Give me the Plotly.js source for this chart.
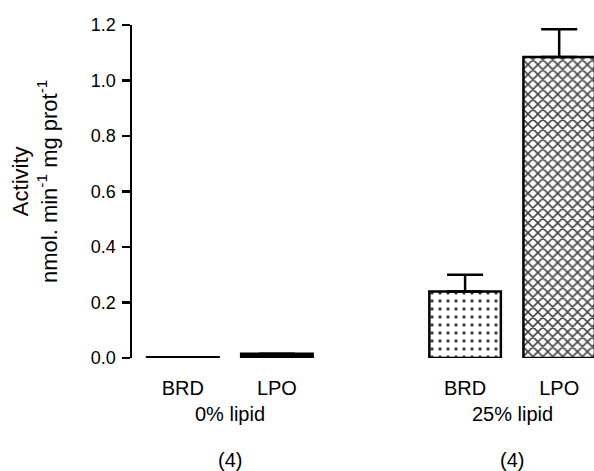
<!DOCTYPE html>
<html>
<head>
<meta charset="utf-8">
<script src="https://cdn.plot.ly/plotly-3.0.1.min.js"></script>
<style>html,body{margin:0;padding:0;background:#fff;}#chart{width:594px;height:471px;}</style>
</head>
<body>
<div id="chart"></div>
<script>
// Data
const positions = [0, 1, 3, 4];
const barLabels = ['BRD', 'LPO', 'BRD', 'LPO'];
const activity = [0.003, 0.015, 0.24, 1.085];
const errorUp = [0, 0, 0.06, 0.1];
const groupLabels = ['0% lipid', '25% lipid'];
const groupCenters = [0.5, 3.5];
const groupN = ['(4)', '(4)'];
const yTitle = 'Activity<br>nmol. min<sup>-1</sup> mg prot<sup>-1</sup>';

const FONT = 'Liberation Sans, Arial, Helvetica, sans-serif';
const FS = 20;

const trace = {
  type: 'bar',
  x: positions,
  y: activity,
  width: 0.76,
  marker: {
    color: ['black', 'black', 'white', 'white'],
    line: {color: 'black', width: 2.5},
    pattern: {
      shape: ['', '', '.', 'x'],
      fgcolor: 'black',
      fgopacity: 1,
      bgcolor: 'white',
      size: [8, 8, 8, 7],
      solidity: [0.15, 0.15, 0.15, 0.4],
      fillmode: 'overlay'
    }
  },
  error_y: {
    type: 'data',
    symmetric: false,
    array: errorUp,
    arrayminus: [0, 0, 0, 0],
    color: 'black',
    thickness: 2.5,
    width: 18
  },
  hoverinfo: 'skip'
};

const annotations = [];
groupLabels.forEach((g, i) => {
  annotations.push({x: groupCenters[i], xref: 'x', y: -0.168, yref: 'paper', text: g,
    showarrow: false, yanchor: 'middle', font: {family: FONT, size: FS, color: 'black'}});
  annotations.push({x: groupCenters[i], xref: 'x', y: -0.306, yref: 'paper', text: groupN[i],
    showarrow: false, yanchor: 'middle', font: {family: FONT, size: FS, color: 'black'}});
});
annotations.push({x: -0.211, xref: 'paper', y: 0.53, yref: 'paper', text: yTitle,
  textangle: -90, showarrow: false, xanchor: 'center', yanchor: 'middle',
  font: {family: FONT, size: 22, color: 'black'}});

const layout = {
  width: 594,
  height: 471,
  margin: {l: 132, r: 0, t: 25, b: 113},
  paper_bgcolor: 'white',
  plot_bgcolor: 'white',
  showlegend: false,
  font: {family: FONT, size: FS, color: 'black'},
  xaxis: {
    range: [-0.54, 4.37],
    tickvals: positions,
    ticktext: barLabels,
    ticks: '',
    showline: false,
    showgrid: false,
    zeroline: false,
    ticklabelstandoff: 16,
    tickfont: {family: FONT, size: FS, color: 'black'}
  },
  yaxis: {
    range: [0, 1.2],
    dtick: 0.2,
    tick0: 0,
    tickformat: '.1f',
    ticks: 'outside',
    ticklen: 8,
    tickwidth: 2.5,
    tickcolor: 'black',
    showline: true,
    linewidth: 2.5,
    linecolor: 'black',
    showgrid: false,
    zeroline: false,
    ticklabelstandoff: 2,
    tickfont: {family: FONT, size: 18, color: 'black'}
  },
  annotations: annotations
};

Plotly.newPlot('chart', [trace], layout, {displayModeBar: false, staticPlot: true});
</script>
</body>
</html>
